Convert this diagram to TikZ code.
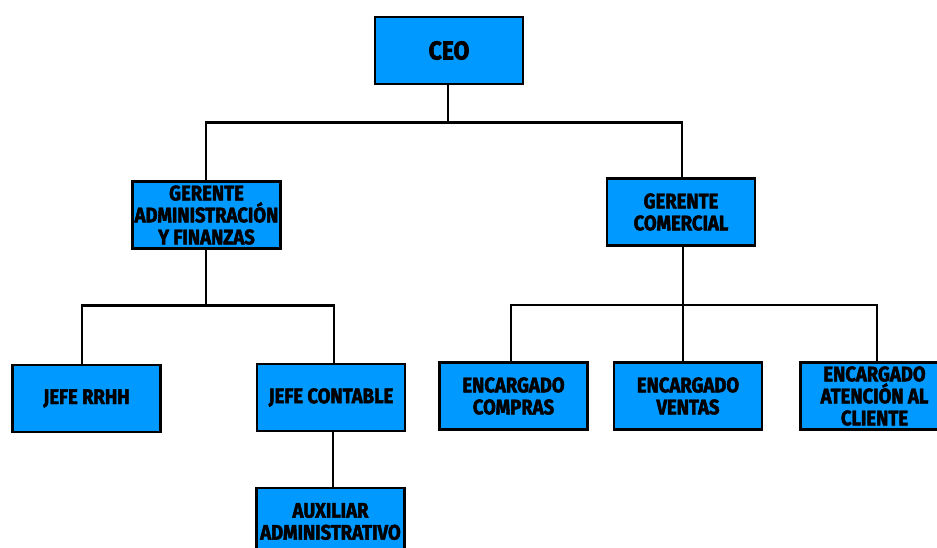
\documentclass[tikz,border=0pt]{standalone}
\usepackage{fontspec}
\setmainfont{Fira Sans}[BoldFeatures={FakeStretch=0.88,FakeBold=2.2}]
\definecolor{boxblue}{RGB}{0,153,255}
\tikzset{
  orgbox/.style={draw=black, line width=2.6pt, fill=boxblue, minimum width=148pt, minimum height=67pt,
    align=center, inner sep=0pt, font=\bfseries\fontsize{21}{22}\selectfont},
  link/.style={draw=black, line width=2.6pt}
}
\begin{document}
\begin{tikzpicture}[x=1pt,y=-1pt]
\useasboundingbox (0,0) rectangle (937,547);
\node[orgbox, font=\bfseries\fontsize{26}{28}\selectfont] (ceo) at (449,50.5) {CEO};
\node[orgbox] (ga) at (206.5,215) {GERENTE\\ADMINISTRACIÓN\\Y FINANZAS};
\node[orgbox] (gc) at (681,212) {GERENTE\\COMERCIAL};
\node[orgbox] (rrhh) at (86.5,398.5) {JEFE RRHH};
\node[orgbox] (cont) at (331,397.5) {JEFE CONTABLE};
\node[orgbox] (comp) at (513.5,396) {ENCARGADO\\COMPRAS};
\node[orgbox] (vent) at (688,396) {ENCARGADO\\VENTAS};
\node[orgbox] (aten) at (874.5,396) {ENCARGADO\\ATENCIÓN AL\\CLIENTE};
\node[orgbox] (aux) at (330.5,521.5) {AUXILIAR\\ADMINISTRATIVO};
\coordinate (j1) at (448,122.5);
\coordinate (j2) at (206,305.5);
\coordinate (j3) at (683,305);
\draw[link] (ceo.south -| j1) -- (j1);
\draw[link] (ga.north -| 206,0) |- (j1) -| (gc.north -| 682,0);
\draw[link] (ga.south -| j2) -- (j2);
\draw[link] (rrhh.north -| 82,0) |- (j2) -| (cont.north -| 334,0);
\draw[link] (gc.south -| j3) -- (j3);
\draw[link] (comp.north -| 511,0) |- (j3) -| (aten.north -| 877,0);
\draw[link] (j3) -- (vent.north -| j3);
\draw[link] (cont.south -| 333,0) -- (aux.north -| 333,0);
\end{tikzpicture}
\end{document}
